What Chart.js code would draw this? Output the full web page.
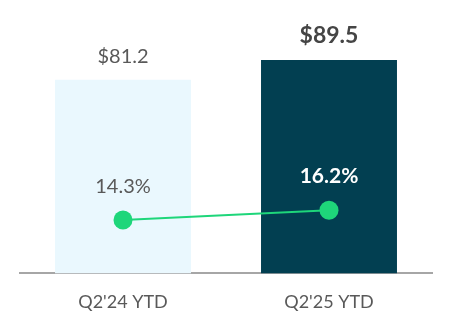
<!DOCTYPE html>
<html>
<head>
<meta charset="utf-8">
<script src="https://cdn.jsdelivr.net/npm/chart.js@4"></script>
<style>
  html, body { margin: 0; padding: 0; background: #fff; }
  #wrap { width: 452px; height: 332px; }
</style>
</head>
<body>
<div id="wrap"><canvas id="chart" width="452" height="332"></canvas></div>
<script>
// --- data ---
const categories = ["Q2'24 YTD", "Q2'25 YTD"];
const revenue = [81.2, 89.5];   // bars, $
const margin = [14.3, 16.2];    // line, %

const barColors = ['#EAF8FE', '#023F51'];
const green = '#1ED67A';

// draws the value labels above the bars and above the line points
const valueLabels = {
    id: 'valueLabels',
    afterDatasetsDraw(chart) {
        const ctx = chart.ctx;
        ctx.save();
        ctx.textAlign = 'center';
        ctx.textBaseline = 'alphabetic';

        const bars = chart.getDatasetMeta(0).data;
        bars.forEach((bar, i) => {
            const last = i === bars.length - 1;
            ctx.font = last ? 'bold 23px Lato' : '20px Lato';
            ctx.fillStyle = last ? '#454545' : '#595959';
            ctx.fillText('$' + revenue[i].toFixed(1), bar.x, bar.y - 17);
        });

        const pts = chart.getDatasetMeta(1).data;
        pts.forEach((pt, i) => {
            const last = i === pts.length - 1;
            ctx.font = last ? 'bold 21px Lato' : '20px Lato';
            ctx.fillStyle = last ? '#ffffff' : '#595959';
            ctx.fillText(margin[i].toFixed(1) + '%', pt.x, pt.y - 27);
        });
        ctx.restore();
    }
};

new Chart(document.getElementById('chart'), {
    type: 'bar',
    data: {
        labels: categories,
        datasets: [
            {
                type: 'bar',
                data: revenue,
                backgroundColor: barColors,
                barPercentage: 0.66,
                categoryPercentage: 1,
                yAxisID: 'y',
                order: 1
            },
            {
                type: 'line',
                data: margin,
                borderColor: green,
                borderWidth: 2,
                pointRadius: 9.5,
                pointBackgroundColor: green,
                pointBorderWidth: 0,
                yAxisID: 'y2',
                order: 0
            }
        ]
    },
    options: {
        responsive: false,
        animation: false,
        layout: { padding: { left: 20, right: 20, top: 35, bottom: 1 } },
        plugins: {
            legend: { display: false },
            tooltip: { enabled: false }
        },
        scales: {
            x: {
                grid: { display: false, drawTicks: false },
                border: { display: true, color: '#A6A6A6', width: 2 },
                ticks: { color: '#595959', font: { family: 'Lato', size: 18 }, padding: 18 }
            },
            y: { display: false, min: 0, max: 100 },
            y2: { display: false, min: 4, max: 50 }
        }
    },
    plugins: [valueLabels]
});
</script>
</body>
</html>
